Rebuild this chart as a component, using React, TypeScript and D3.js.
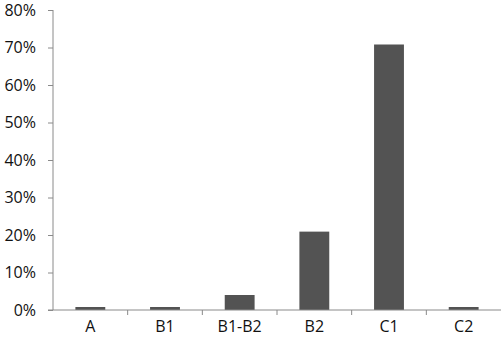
import * as d3 from "d3"
import { useRef, useEffect } from "react"

const categories = ["A", "B1", "B1-B2", "B2", "C1", "C2"]
const values = [0.8, 0.8, 4, 20.9, 70.8, 0.8]
const yTicks = [0, 10, 20, 30, 40, 50, 60, 70, 80]

const App = () => {
  const svgRef = useRef<SVGSVGElement>(null)
  const width = 501
  const height = 347
  const left = 53
  const right = 501
  const top = 10
  const bottom = 310

  useEffect(() => {
    const svg = d3.select(svgRef.current)
    svg.selectAll("*").remove()

    const x = d3.scaleBand().domain(categories).range([left, right]).paddingInner(0).paddingOuter(0)
    const y = d3.scaleLinear().domain([0, 80]).range([bottom, top])
    const font = "Open Sans, Liberation Sans, sans-serif"

    // bars
    const bw = x.bandwidth() * 0.4
    svg
      .selectAll("rect.bar")
      .data(categories)
      .join("rect")
      .attr("class", "bar")
      .attr("x", (d) => x(d)! + x.bandwidth() / 2 - bw / 2)
      .attr("y", (d, i) => y(values[i]))
      .attr("width", bw)
      .attr("height", (d, i) => bottom - y(values[i]))
      .attr("fill", "#535353")

    // y axis
    const yAxis = d3
      .axisLeft(y)
      .tickValues(yTicks)
      .tickSize(5)
      .tickPadding(12)
      .tickFormat((d) => `${d}%`)
    const gy = svg.append("g").attr("transform", `translate(${left},0)`).call(yAxis)
    gy.select(".domain").attr("stroke", "#8a8a8a").attr("d", `M0,${top}V${bottom}`)
    gy.selectAll(".tick line").attr("stroke", "#8a8a8a")
    gy.selectAll("text").attr("font-family", font).attr("font-size", 16).attr("fill", "#111")

    // x axis
    const gx = svg.append("g").attr("transform", `translate(0,${bottom})`)
    gx.append("line").attr("x1", left - 5).attr("x2", right).attr("stroke", "#8a8a8a")
    gx.selectAll("line.tick")
      .data(categories.slice(1))
      .join("line")
      .attr("class", "tick")
      .attr("x1", (d) => x(d)!)
      .attr("x2", (d) => x(d)!)
      .attr("y1", 0)
      .attr("y2", 5)
      .attr("stroke", "#8a8a8a")
    gx.selectAll("text")
      .data(categories)
      .join("text")
      .attr("x", (d) => x(d)! + x.bandwidth() / 2)
      .attr("y", 22)
      .attr("text-anchor", "middle")
      .attr("font-family", font)
      .attr("font-size", 16)
      .attr("fill", "#111")
      .text((d) => d)
  }, [])

  return (
    <svg
      ref={svgRef}
      width={width}
      height={height}
      style={{ position: "absolute", left: 0, top: 0, background: "#fff" }}
    ></svg>
  )
}

export default App
